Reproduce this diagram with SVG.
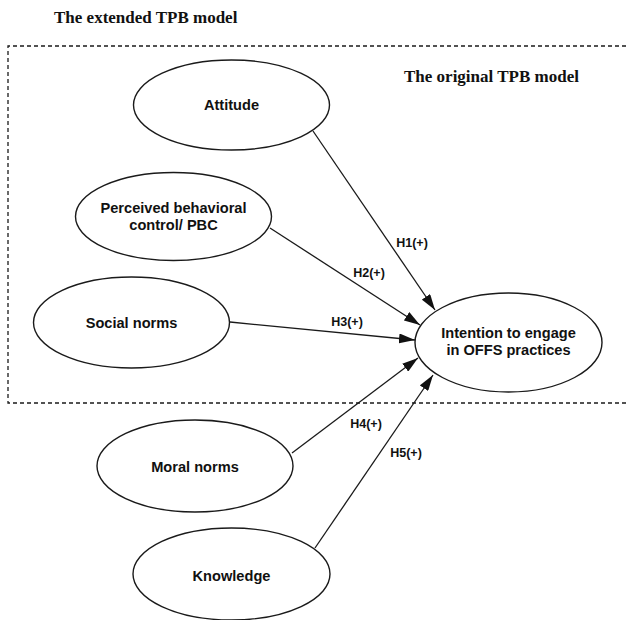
<svg xmlns="http://www.w3.org/2000/svg" width="626" height="620" viewBox="0 0 626 620">
<style>
.title{font-family:"Liberation Serif","Times New Roman",serif;font-weight:bold;font-size:17px;fill:#111}
.node ellipse{fill:#fff;stroke:#1a1a1a;stroke-width:1.4}
.node text{font-family:"Liberation Sans",Arial,sans-serif;font-weight:bold;font-size:14.6px;fill:#111;text-anchor:middle}
.lbl{font-family:"Liberation Sans",Arial,sans-serif;font-weight:bold;font-size:12.5px;fill:#111;text-anchor:middle}
.conn line{stroke:#1a1a1a;stroke-width:1.3;marker-end:url(#arr)}
.frame{fill:none;stroke:#1a1a1a;stroke-width:1.3;stroke-dasharray:4 3}
</style>
<defs>
<marker id="arr" viewBox="0 0 16 10" refX="16" refY="5" markerWidth="16" markerHeight="10" markerUnits="userSpaceOnUse" orient="auto">
<path d="M0,0 L16,5 L0,10 Z" fill="#111"/>
</marker>
</defs>
<rect width="626" height="620" fill="#fff"/>
<text class="title" x="54" y="23">The extended TPB model</text>
<path class="frame" d="M626,46 H8 V403 H626"/>
<text class="title" x="404" y="82">The original TPB model</text>
<g class="conn">
<line x1="313" y1="131" x2="435" y2="310"/>
<line x1="270" y1="228" x2="420" y2="325"/>
<line x1="230" y1="322" x2="415" y2="340"/>
<line x1="292" y1="453" x2="418" y2="358"/>
<line x1="315" y1="548" x2="433" y2="375"/>
</g>
<g class="lbls">
<text class="lbl" x="412" y="247">H1(+)</text>
<text class="lbl" x="369" y="277">H2(+)</text>
<text class="lbl" x="347" y="326">H3(+)</text>
<text class="lbl" x="366" y="428">H4(+)</text>
<text class="lbl" x="406" y="457">H5(+)</text>
</g>
<g id="attitude" class="node"><ellipse cx="231.5" cy="105" rx="98" ry="45"/><text x="231.5" y="110">Attitude</text></g>
<g id="pbc" class="node"><ellipse cx="173.5" cy="216.5" rx="98" ry="44"/><text x="173.5" y="213">Perceived behavioral</text><text x="173.5" y="230">control/ PBC</text></g>
<g id="social" class="node"><ellipse cx="131.5" cy="322.5" rx="98" ry="45.5"/><text x="131.5" y="328">Social norms</text></g>
<g id="intention" class="node"><ellipse cx="508.5" cy="342.5" rx="93.5" ry="49.5"/><text x="508.5" y="338">Intention to engage</text><text x="508.5" y="355">in OFFS practices</text></g>
<g id="moral" class="node"><ellipse cx="195" cy="466" rx="98" ry="46"/><text x="195" y="472">Moral norms</text></g>
<g id="knowledge" class="node"><ellipse cx="231.5" cy="574" rx="98.5" ry="46"/><text x="231.5" y="581">Knowledge</text></g>
</svg>
